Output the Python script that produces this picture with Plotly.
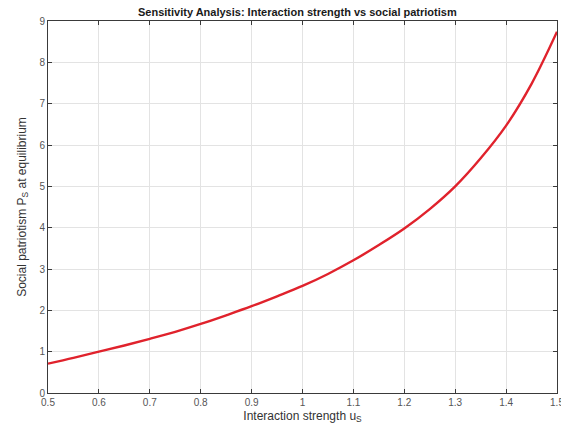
import plotly.graph_objects as go

# Interaction strength u_S and equilibrium social patriotism P_S
u_s = [0.50, 0.55, 0.60, 0.65, 0.70, 0.75, 0.80, 0.85, 0.90, 0.95, 1.00,
       1.05, 1.10, 1.15, 1.20, 1.25, 1.30, 1.35, 1.40, 1.45, 1.50]
p_s = [0.71, 0.85, 1.00, 1.15, 1.31, 1.48, 1.67, 1.88, 2.10, 2.34, 2.59,
       2.88, 3.21, 3.58, 3.98, 4.45, 5.00, 5.68, 6.47, 7.48, 8.74]

x_ticks = [0.5, 0.6, 0.7, 0.8, 0.9, 1.0, 1.1, 1.2, 1.3, 1.4, 1.5]
x_tick_labels = ["0.5", "0.6", "0.7", "0.8", "0.9", "1", "1.1", "1.2", "1.3", "1.4", "1.5"]
y_ticks = list(range(0, 10))

fig = go.Figure()
fig.add_trace(go.Scatter(
    x=u_s, y=p_s, mode="lines",
    line=dict(color="#e0222c", width=2.4, shape="spline", smoothing=1.0),
    showlegend=False,
))

axis_common = dict(
    showline=True, linecolor="#3a3a3a", linewidth=1, mirror="ticks",
    ticks="inside", ticklen=4, tickcolor="#3a3a3a",
    showgrid=True, gridcolor="#e3e3e3", gridwidth=1,
    zeroline=False, ticklabeloverflow="allow", automargin=False,
    tickfont=dict(family="Liberation Sans, Arial", size=10, color="#555555"),
)

fig.update_layout(
    width=561, height=429,
    margin=dict(l=48, r=4, t=21, b=36),
    paper_bgcolor="white", plot_bgcolor="white",
    title=dict(
        text="<b>Sensitivity Analysis: Interaction strength vs social patriotism</b>",
        x=0.53, xanchor="center", y=0.972, yanchor="middle",
        font=dict(family="Liberation Sans, Arial", size=11, color="#1a1a1a"),
    ),
    xaxis=dict(
        axis_common, range=[0.5, 1.5], tickvals=x_ticks, ticktext=x_tick_labels,
        title=dict(text="Interaction strength u<sub>S</sub>", standoff=4,
                   font=dict(family="Liberation Sans, Arial", size=12, color="#333333")),
    ),
    yaxis=dict(
        axis_common, range=[0, 9], tickvals=y_ticks,
        title=dict(text="Social patriotism P<sub>S</sub> at equilibrium", standoff=10,
                   font=dict(family="Liberation Sans, Arial", size=12, color="#333333")),
    ),
)

fig.write_html("out.html")
